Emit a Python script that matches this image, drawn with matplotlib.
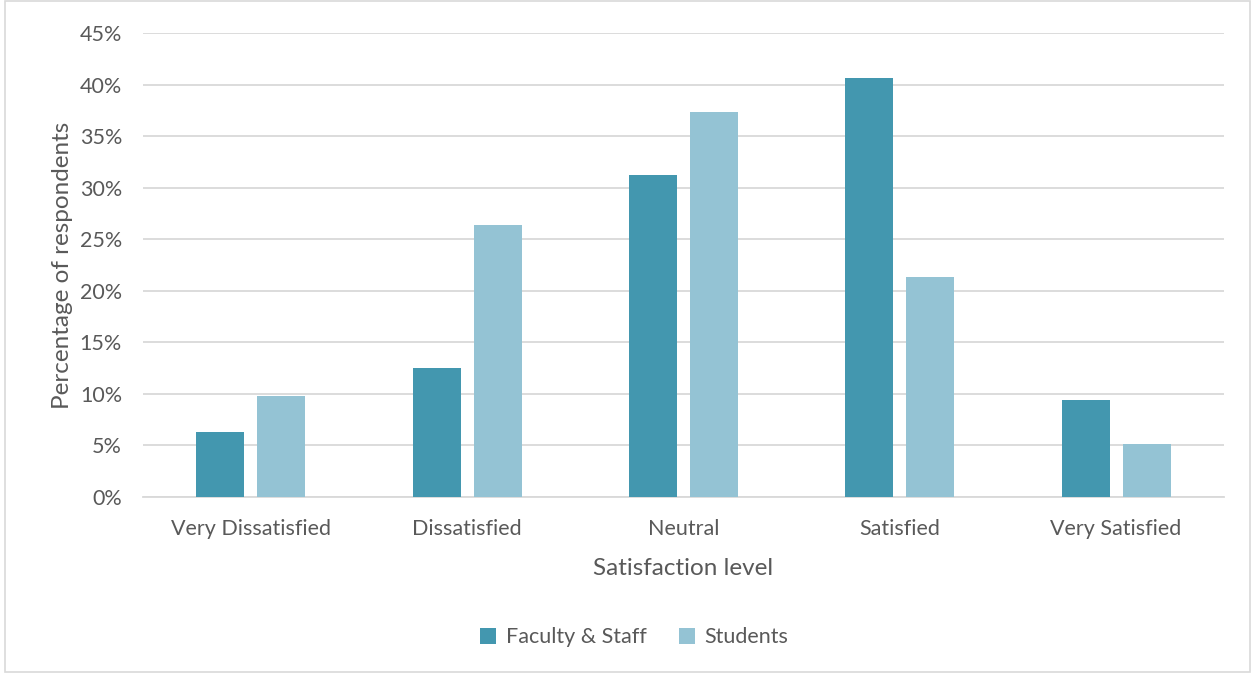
import matplotlib
matplotlib.use("Agg")
import matplotlib.pyplot as plt
from matplotlib.patches import Rectangle
from matplotlib.ticker import FuncFormatter
import numpy as np

categories = ["Very Dissatisfied", "Dissatisfied", "Neutral", "Satisfied", "Very Satisfied"]
faculty_staff = [6.25, 12.5, 31.25, 40.6, 9.4]
students = [9.8, 26.4, 37.3, 21.35, 5.1]
series_names = ["Faculty & Staff", "Students"]
y_ticks = [0, 5, 10, 15, 20, 25, 30, 35, 40, 45]

dark = "#4397AF"
light = "#94C3D4"
text_gray = "#595959"
grid_gray = "#D9D9D9"

plt.rcParams["font.family"] = ["Lato", "DejaVu Sans"]

fig = plt.figure(figsize=(12.53, 6.75), dpi=100)
ax = fig.add_axes([0.114, 0.264, 0.863, 0.687])

x = np.arange(len(categories))
width = 0.222
offset = 0.141
ax.bar(x - offset, faculty_staff, width, color=dark, label=series_names[0], zorder=3)
ax.bar(x + offset, students, width, color=light, label=series_names[1], zorder=3)

ax.set_xlim(-0.5, len(categories) - 0.5)
ax.set_ylim(0, 45)
ax.set_yticks(y_ticks)
ax.yaxis.set_major_formatter(FuncFormatter(lambda v, p: f"{v:.0f}%"))
ax.set_xticks(x)
ax.set_xticklabels(categories)

ax.grid(axis="y", color=grid_gray, linewidth=1.3, zorder=0)
for s in ["top", "right", "left"]:
    ax.spines[s].set_visible(False)
ax.spines["bottom"].set_color(grid_gray)
ax.spines["bottom"].set_linewidth(1.3)
ax.tick_params(axis="both", length=0, labelsize=15.5, colors=text_gray)
ax.tick_params(axis="x", pad=16)
ax.tick_params(axis="y", pad=15)

ax.set_xlabel("Satisfaction level", fontsize=17.5, color=text_gray, labelpad=14)
ax.set_ylabel("Percentage of respondents", fontsize=17.5, color=text_gray, labelpad=5)

leg = fig.legend(loc="center", bbox_to_anchor=(0.506, 0.056), ncol=2, frameon=False,
                 fontsize=15.5, handlelength=0.75, handleheight=0.75, handletextpad=0.45,
                 columnspacing=1.5)
for t in leg.get_texts():
    t.set_color(text_gray)

fig.patches.append(Rectangle((0.004, 0.004), 0.994, 0.994, transform=fig.transFigure,
                             fill=False, edgecolor=grid_gray, linewidth=1.2))

fig.savefig("out.png", dpi=100)
